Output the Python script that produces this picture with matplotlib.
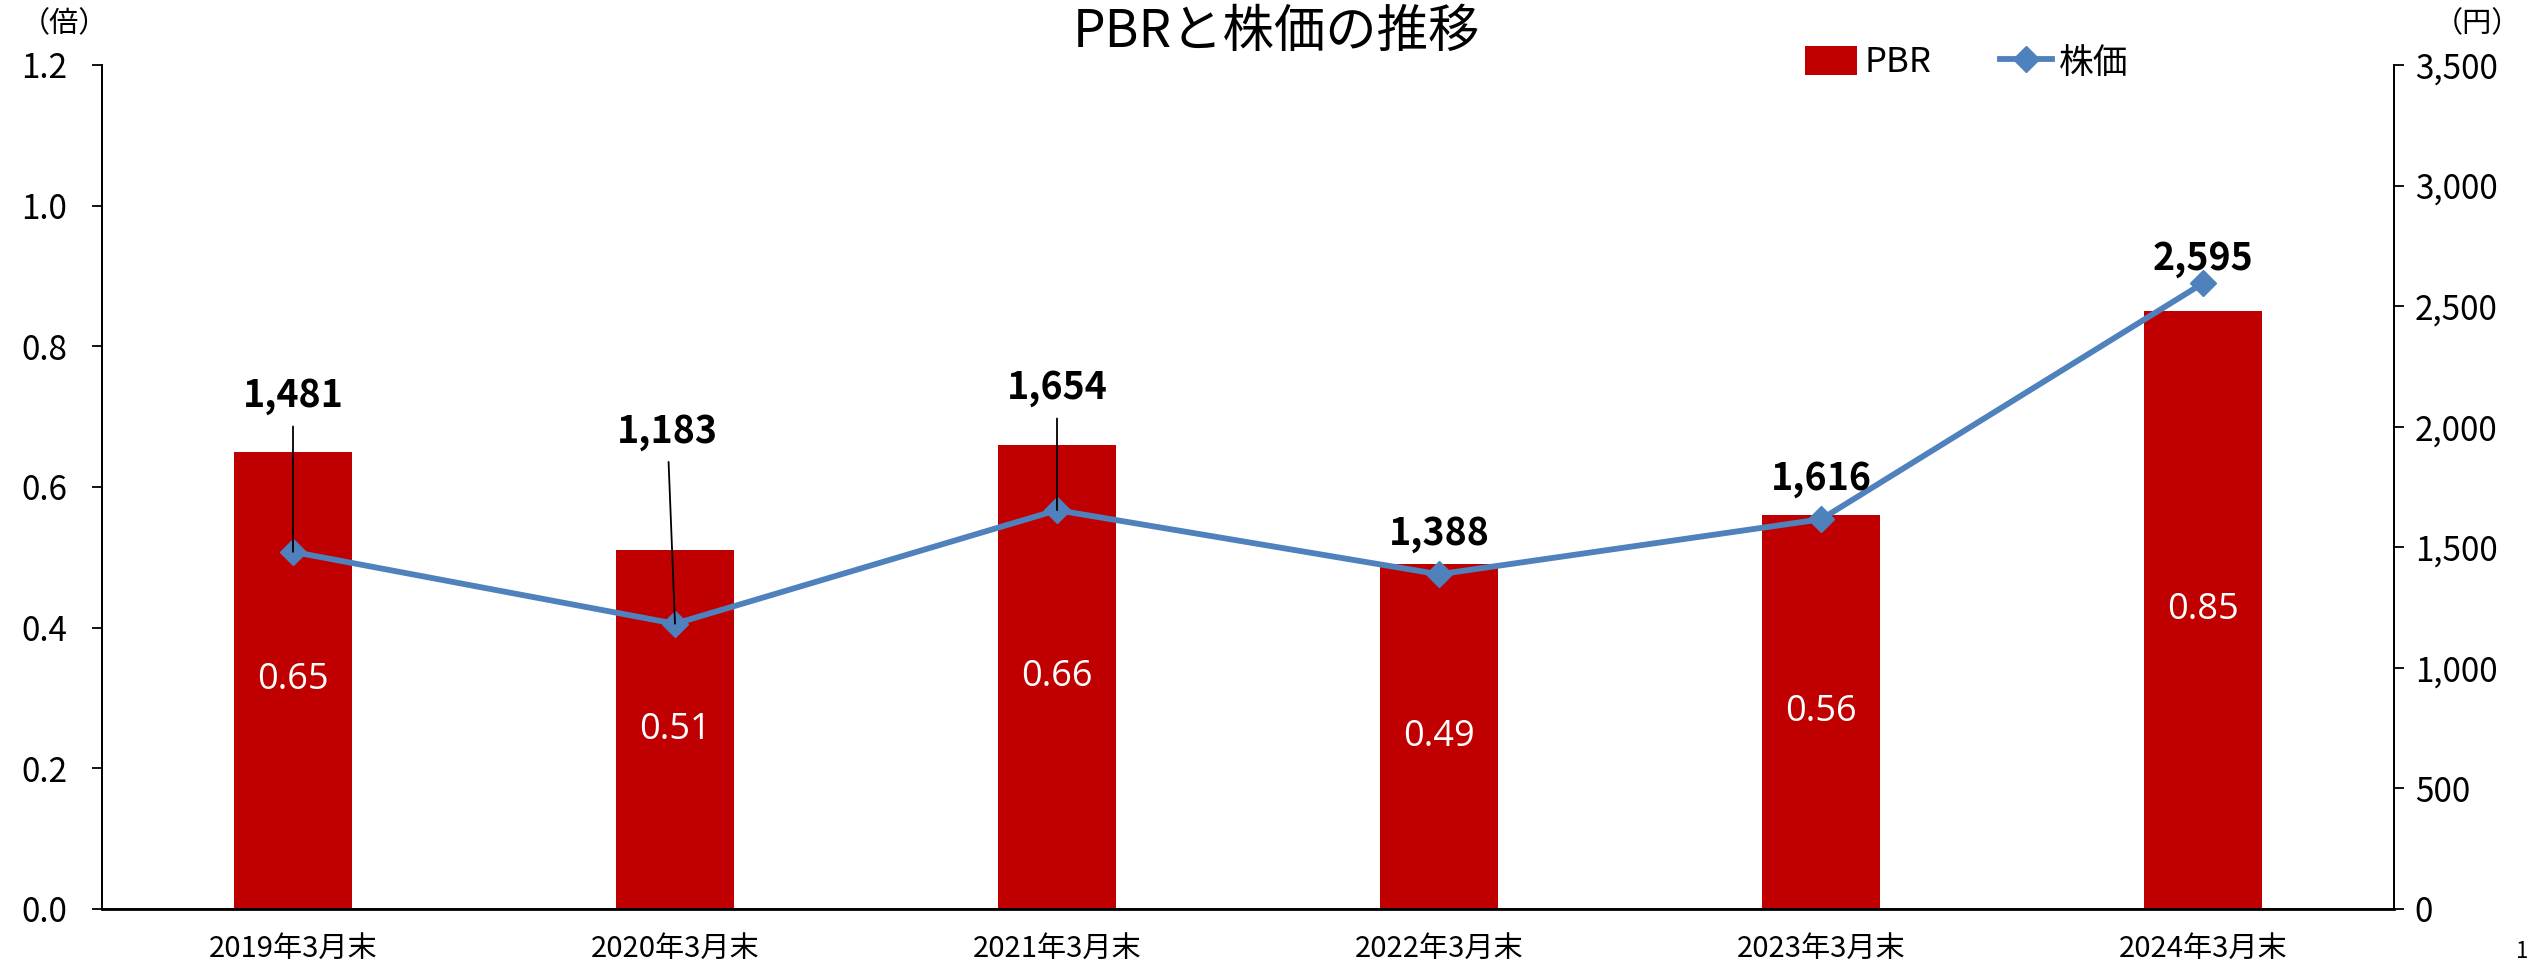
import matplotlib
matplotlib.use("Agg")
import matplotlib.pyplot as plt
from matplotlib.lines import Line2D
from matplotlib.patches import Patch

categories = ["2019年3月末", "2020年3月末", "2021年3月末", "2022年3月末", "2023年3月末", "2024年3月末"]
pbr = [0.65, 0.51, 0.66, 0.49, 0.56, 0.85]
price = [1481, 1183, 1654, 1388, 1616, 2595]
price_label_y = [2128, 1981, 2161, 1559, 1787, 2697]
price_label_dx = [0.0, -0.02, 0.0, 0.0, 0.0, 0.0]
leader = [True, True, True, False, False, False]
left_ticks = [0.0, 0.2, 0.4, 0.6, 0.8, 1.0, 1.2]
right_ticks = [0, 500, 1000, 1500, 2000, 2500, 3000, 3500]

NARROW = ["Liberation Sans Narrow", "Noto Sans CJK JP", "DejaVu Sans"]
plt.rcParams["font.family"] = NARROW

BAR_C = "#C00000"
LINE_C = "#4F81BD"

fig = plt.figure(figsize=(25.31, 9.65), dpi=100)
ax = fig.add_axes([102 / 2531, 56 / 965, (2394 - 102) / 2531, (909 - 65) / 965])
ax2 = ax.twinx()

x = list(range(len(categories)))
ax.bar(x, pbr, width=0.31, color=BAR_C, zorder=2)
ax.set_xlim(-0.5, len(categories) - 0.5)
ax.set_ylim(0, 1.2)
ax.set_yticks(left_ticks)
ax.set_yticklabels([f"{v:.1f}" for v in left_ticks])
ax.set_xticks(x)
ax.set_xticklabels(categories, fontsize=21)
ax.tick_params(axis="x", length=0, pad=18)
ax.tick_params(axis="y", labelsize=24, length=7, width=1.3, pad=18, direction="out")

for i, v in enumerate(pbr):
    ax.text(i, v / 2, f"{v:.2f}", ha="center", va="center", color="white",
            fontsize=26, family=["Open Sans", "DejaVu Sans"], zorder=3)

ax2.plot(x, price, color=LINE_C, lw=4.2, marker="D", markersize=13,
         markerfacecolor=LINE_C, markeredgecolor=LINE_C, zorder=5)
ax2.set_ylim(0, 3500)
ax2.set_yticks(right_ticks)
ax2.set_yticklabels([f"{v:,}" for v in right_ticks])
ax2.tick_params(axis="y", labelsize=24, length=7, width=1.3, pad=8, direction="out")

for i, v in enumerate(price):
    if leader[i]:
        ax2.annotate(f"{v:,}", xy=(i, v), xytext=(i + price_label_dx[i], price_label_y[i]),
                     ha="center", va="center", fontsize=27, fontweight="bold",
                     arrowprops=dict(arrowstyle="-", color="black", lw=1.3,
                                     shrinkA=6, shrinkB=0), zorder=6)
    else:
        ax2.text(i + price_label_dx[i], price_label_y[i], f"{v:,}", ha="center", va="center",
                 fontsize=27, fontweight="bold", zorder=6)

for a in (ax, ax2):
    a.spines["top"].set_visible(False)
    for s in ("left", "right", "bottom"):
        a.spines[s].set_linewidth(1.3)
ax.spines["bottom"].set_linewidth(2)

fig.text(1276 / 2531, 1 - 32 / 965, "PBRと株価の推移", ha="center", va="center", fontsize=37,
         family=["Noto Sans CJK JP", "DejaVu Sans"])
fig.text(64 / 2531, 1 - 24 / 965, "（倍）", ha="center", va="center", fontsize=21,
         family=["Noto Sans CJK JP", "DejaVu Sans"])
fig.text(2477 / 2531, 1 - 24 / 965, "（円）", ha="center", va="center", fontsize=21,
         family=["Noto Sans CJK JP", "DejaVu Sans"])
fig.text(2522 / 2531, 1 - 952 / 965, "1", ha="center", va="center", fontsize=16)

handles = [Patch(facecolor=BAR_C, edgecolor="none"),
           Line2D([0], [0], color=LINE_C, lw=4.2, marker="D", markersize=13)]
fig.legend(handles, ["PBR", "株価"], loc="center left", ncol=2,
           bbox_to_anchor=(1805 / 2531, 1 - 63 / 965), frameon=False,
           fontsize=25, handlelength=1.5, handleheight=0.9, columnspacing=2.0,
           handletextpad=0.2, borderpad=0, borderaxespad=0)

fig.savefig("out.png", dpi=100)
